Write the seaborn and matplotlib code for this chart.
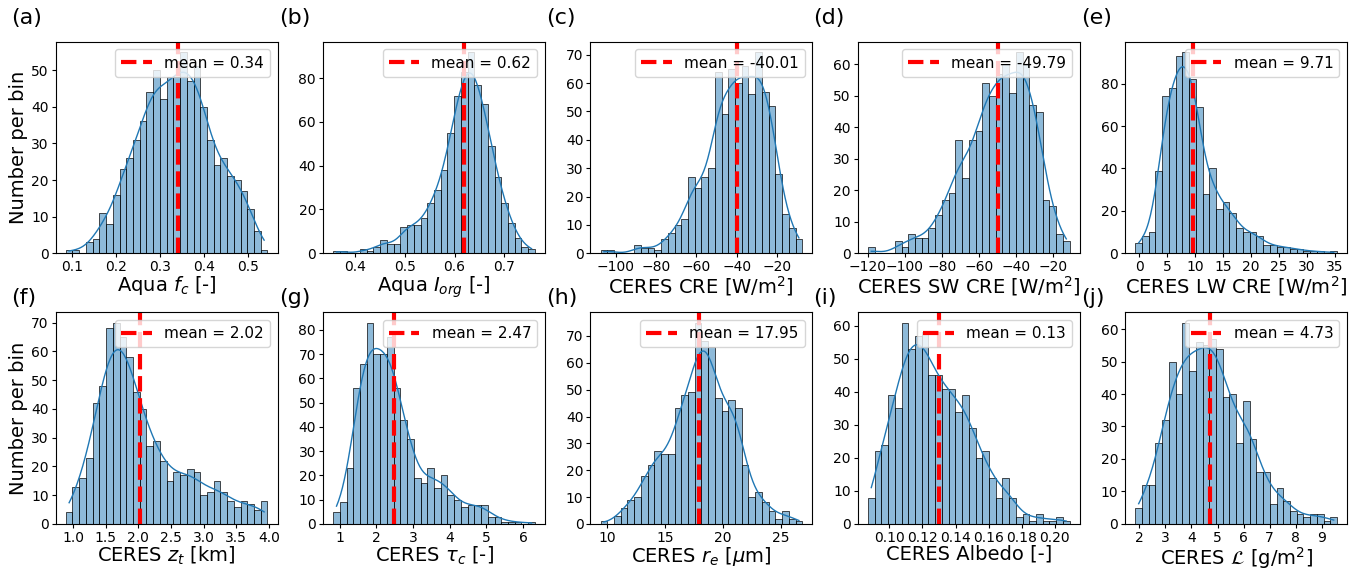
import numpy as np
import seaborn as sns
import matplotlib.pyplot as plt
from matplotlib.ticker import MultipleLocator

# bin counts (30 bins per panel)
fc_counts = [1, 1, 0, 3, 4, 11, 8, 16, 23, 26, 31, 36, 44, 50, 42, 48, 48, 55, 47, 51, 40, 31, 24, 26, 21, 20, 17, 12, 6, 1]
iorg_counts = [1, 1, 0, 0, 2, 1, 3, 6, 4, 4, 12, 13, 13, 16, 23, 29, 38, 55, 72, 83, 92, 77, 68, 49, 35, 23, 14, 7, 3, 2]
cre_counts = [1, 1, 0, 0, 0, 3, 2, 2, 1, 5, 7, 10, 12, 27, 23, 27, 30, 64, 49, 65, 60, 66, 56, 71, 57, 52, 28, 14, 9, 5]
swcre_counts = [2, 0, 0, 0, 4, 2, 6, 5, 5, 8, 12, 17, 19, 36, 24, 36, 39, 54, 50, 57, 60, 51, 64, 60, 47, 45, 17, 15, 6, 4]
lwcre_counts = [5, 8, 10, 39, 74, 78, 93, 95, 82, 69, 28, 40, 21, 24, 19, 12, 10, 10, 8, 4, 4, 3, 3, 2, 2, 1, 1, 1, 0, 1]
zt_counts = [4, 13, 16, 23, 42, 48, 68, 70, 65, 58, 46, 40, 27, 29, 22, 15, 18, 17, 19, 18, 10, 11, 15, 11, 8, 6, 8, 7, 5, 8]
tau_counts = [5, 9, 23, 56, 66, 83, 70, 70, 77, 56, 43, 35, 19, 17, 23, 15, 20, 12, 10, 7, 8, 8, 8, 3, 3, 1, 1, 1, 0, 1]
re_counts = [1, 0, 3, 6, 9, 10, 18, 22, 27, 26, 26, 43, 48, 49, 75, 68, 66, 47, 42, 46, 43, 22, 10, 12, 8, 5, 2, 5, 2, 1]
alb_counts = [8, 22, 24, 39, 35, 61, 53, 57, 58, 45, 45, 41, 41, 34, 39, 29, 20, 22, 14, 8, 14, 8, 2, 3, 1, 3, 1, 1, 2, 1]
lwp_counts = [5, 12, 12, 25, 32, 50, 40, 62, 47, 56, 55, 57, 54, 39, 40, 25, 38, 26, 16, 16, 6, 11, 7, 4, 3, 2, 3, 3, 1, 2]

# data range (first bin edge, last bin edge)
ranges = [(0.085, 0.545), (0.355, 0.762), (-107.5, -7.5), (-120.0, -11.0), (-0.7, 35.4),
          (0.89, 3.98), (0.82, 6.32), (9.43, 26.86), (0.087, 0.209), (1.85, 9.58)]
means = [0.34, 0.62, -40.01, -49.79, 9.71, 2.02, 2.47, 17.95, 0.13, 4.73]
xlabels = ["Aqua $f_c$ [-]", "Aqua $I_{org}$ [-]", "CERES CRE [W/m$^2$]",
           "CERES SW CRE [W/m$^2$]", "CERES LW CRE [W/m$^2$]",
           "CERES $z_t$ [km]", "CERES $\\tau_c$ [-]", "CERES $r_e$ [$\\mu$m]",
           "CERES Albedo [-]", "CERES $\\mathcal{L}$ [g/m$^2$]"]
letters = ["(a)", "(b)", "(c)", "(d)", "(e)", "(f)", "(g)", "(h)", "(i)", "(j)"]
xsteps = [0.1, 0.1, 20, 20, 5, 0.5, 1, 5, 0.02, 1]
ysteps = [10, 20, 10, 10, 20, 10, 10, 10, 10, 10]

all_counts = [fc_counts, iorg_counts, cre_counts, swcre_counts, lwcre_counts,
              zt_counts, tau_counts, re_counts, alb_counts, lwp_counts]

fig, axes = plt.subplots(2, 5, figsize=(13.58, 5.72), dpi=100)
plt.subplots_adjust(left=0.041, right=0.992, bottom=0.084, top=0.927, wspace=0.205, hspace=0.28)

for i, ax in enumerate(axes.flat):
    lo, hi = ranges[i]
    counts = np.array(all_counts[i])
    edges = np.linspace(lo, hi, len(counts) + 1)
    centers = (edges[:-1] + edges[1:]) / 2
    vals = np.repeat(centers, counts)  # one value per counted sample, at its bin centre

    sns.histplot(x=vals, bins=len(counts), binrange=(lo, hi), kde=True, ax=ax,
                 line_kws={"linewidth": 1})
    ax.axvline(means[i], color="red", ls="--", lw=3, label=f"mean = {means[i]:.2f}")
    ax.legend(loc="upper right", fontsize=11)

    ax.xaxis.set_major_locator(MultipleLocator(xsteps[i]))
    ax.yaxis.set_major_locator(MultipleLocator(ysteps[i]))
    ax.set_xlabel(xlabels[i], fontsize=14, labelpad=0)
    if i % 5 == 0:
        ax.set_ylabel("Number per bin", fontsize=14, labelpad=2)
    else:
        ax.set_ylabel("")
    ax.tick_params(labelsize=10, length=3, pad=2)
    yt = 1.11 if i < 5 else 1.07
    ax.text(-0.2, yt, letters[i], transform=ax.transAxes, fontsize=16, va="center")

plt.savefig("out.png", dpi=100)
